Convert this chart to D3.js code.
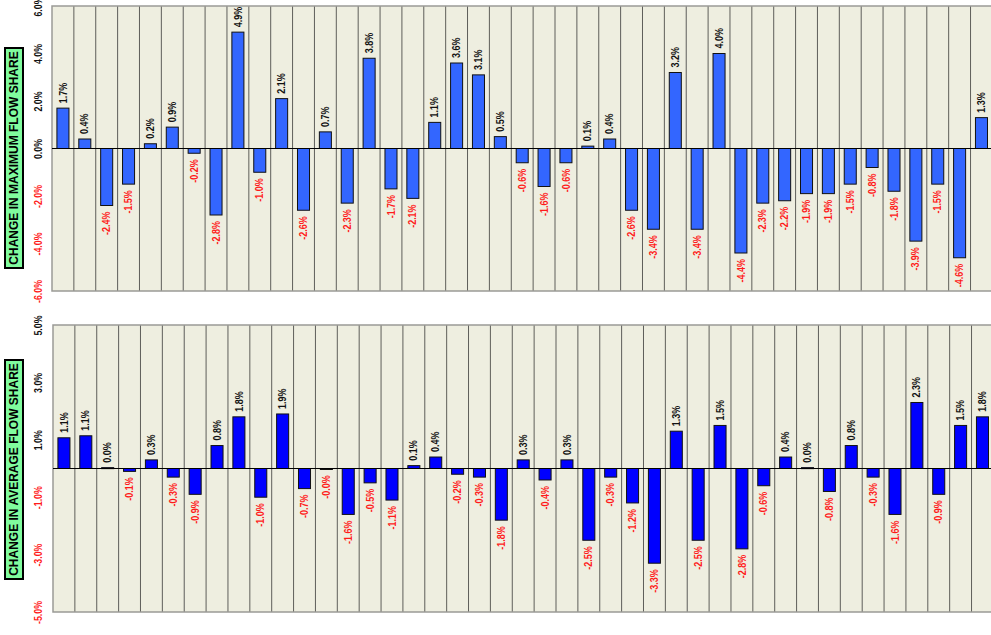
<!DOCTYPE html>
<html lang="en">
<head>
<meta charset="UTF-8">
<title>Change in Flow Share</title>
<script src="https://d3js.org/d3.v7.min.js"></script>
<style>
  body { margin: 0; background: #fff; font-family: Arial, "Liberation Sans", sans-serif; }
  svg text { font-weight: bold; }
</style>
</head>
<body>
<svg width="991" height="635"></svg>
<script>
  // change in maximum flow share (%), one value per column
  const maxShare = [1.7, 0.4, -2.4, -1.5, 0.2, 0.9, -0.2, -2.8, 4.9, -1.0, 2.1, -2.6, 0.7, -2.3, 3.8,
                    -1.7, -2.1, 1.1, 3.6, 3.1, 0.5, -0.6, -1.6, -0.6, 0.1, 0.4, -2.6, -3.4, 3.2, -3.4,
                    4.0, -4.4, -2.3, -2.2, -1.9, -1.9, -1.5, -0.8, -1.8, -3.9, -1.5, -4.6, 1.3];
  // change in average flow share (%)
  const avgShare = [1.07, 1.14, 0.03, -0.1, 0.3, -0.3, -0.9, 0.8, 1.8, -1.0, 1.9, -0.7, -0.03, -1.6, -0.5,
                    -1.1, 0.1, 0.4, -0.2, -0.3, -1.8, 0.3, -0.4, 0.3, -2.5, -0.3, -1.2, -3.3, 1.3, -2.5,
                    1.5, -2.8, -0.6, 0.4, 0.03, -0.8, 0.8, -0.3, -1.6, 2.3, -0.9, 1.5, 1.8];
  const maxTicks = [-6, -4, -2, 0, 2, 4, 6];
  const avgTicks = [-5, -3, -1, 1, 3, 5];

  const svg = d3.select("svg");
  const colW = 21.87;

  function panel(cfg) {
    const { values, ticks, top, bottom, left, title, boxTop, boxBottom, fill } = cfg;
    const right = left + values.length * colW;

    const x = d3.scaleBand()
      .domain(d3.range(values.length))
      .range([left, right])
      .padding(0);
    const y = d3.scaleLinear()
      .domain([ticks[0], ticks[ticks.length - 1]])
      .range([bottom, top]);

    const g = svg.append("g");

    // plot background
    g.append("rect")
      .attr("x", left).attr("y", top)
      .attr("width", right - left).attr("height", bottom - top)
      .attr("fill", "#eeeee0");

    // column separators
    g.selectAll(".sep")
      .data(d3.range(1, values.length))
      .enter().append("line")
        .attr("x1", i => x(i)).attr("x2", i => x(i))
        .attr("y1", top).attr("y2", bottom)
        .attr("stroke", "#5e5e5a")
        .attr("stroke-width", 1);

    // border
    g.append("rect")
      .attr("x", left).attr("y", top)
      .attr("width", right - left).attr("height", bottom - top)
      .attr("fill", "none")
      .attr("stroke", "#9a9a96")
      .attr("stroke-width", 1.5);

    // bars
    const bw = x.bandwidth() * 0.55;
    g.selectAll(".bar")
      .data(values)
      .enter().append("rect")
        .attr("x", (d, i) => x(i) + (x.bandwidth() - bw) / 2)
        .attr("y", d => y(Math.max(0, d)))
        .attr("width", bw)
        .attr("height", d => Math.max(1, Math.abs(y(d) - y(0))))
        .attr("fill", fill)
        .attr("stroke", "#111")
        .attr("stroke-width", 1);

    // zero line
    g.append("line")
      .attr("x1", left).attr("x2", right)
      .attr("y1", y(0)).attr("y2", y(0))
      .attr("stroke", "#000")
      .attr("stroke-width", 1);

    // value labels
    g.selectAll(".val")
      .data(values)
      .enter().append("text")
        .attr("transform", (d, i) => {
          const cx = x(i) + x.bandwidth() / 2;
          const yy = d >= 0 ? y(d) - 5 : y(d) + 6;
          return `translate(${cx},${yy}) rotate(-90) scale(0.9,1)`;
        })
        .attr("dy", "0.36em")
        .attr("text-anchor", d => d >= 0 ? "start" : "end")
        .attr("font-size", "10px")
        .attr("fill", d => d >= 0 ? "#111" : "#ff1a1a")
        .text(d => d.toFixed(1) + "%");

    // y axis
    const axis = g.append("g")
      .attr("transform", `translate(${left},0)`)
      .call(d3.axisLeft(y).tickValues(ticks).tickSize(0).tickFormat(d => d.toFixed(1) + "%"));
    axis.select(".domain").remove();
    axis.selectAll("text")
      .attr("x", null)
      .attr("dy", "0.36em")
      .attr("transform", `translate(${38 - left},0) rotate(-90) scale(0.8,1)`)
      .attr("text-anchor", "middle")
      .attr("font-size", "11px")
      .attr("font-family", "Arial, 'Liberation Sans', sans-serif")
      .attr("font-weight", "bold")
      .attr("fill", d => d < 0 ? "#ff1a1a" : "#111");

    // axis title box
    g.append("rect")
      .attr("x", 5).attr("y", boxTop)
      .attr("width", 18).attr("height", boxBottom - boxTop)
      .attr("fill", "#80fc9e")
      .attr("stroke", "#000")
      .attr("stroke-width", 2);
    g.append("text")
      .attr("transform", `translate(14,${(boxTop + boxBottom) / 2}) rotate(-90)`)
      .attr("dy", "0.36em")
      .attr("text-anchor", "middle")
      .attr("font-size", "12px")
      .attr("fill", "#000")
      .text(title);
  }

  panel({
    values: maxShare, ticks: maxTicks,
    top: 6, bottom: 291, left: 52,
    boxTop: 48, boxBottom: 268,
    title: "CHANGE IN MAXIMUM FLOW SHARE",
    fill: "#3366ff"
  });

  panel({
    values: avgShare, ticks: avgTicks,
    top: 325, bottom: 612, left: 53,
    boxTop: 360, boxBottom: 579,
    title: "CHANGE IN AVERAGE FLOW SHARE",
    fill: "#0000ff"
  });
</script>
</body>
</html>
